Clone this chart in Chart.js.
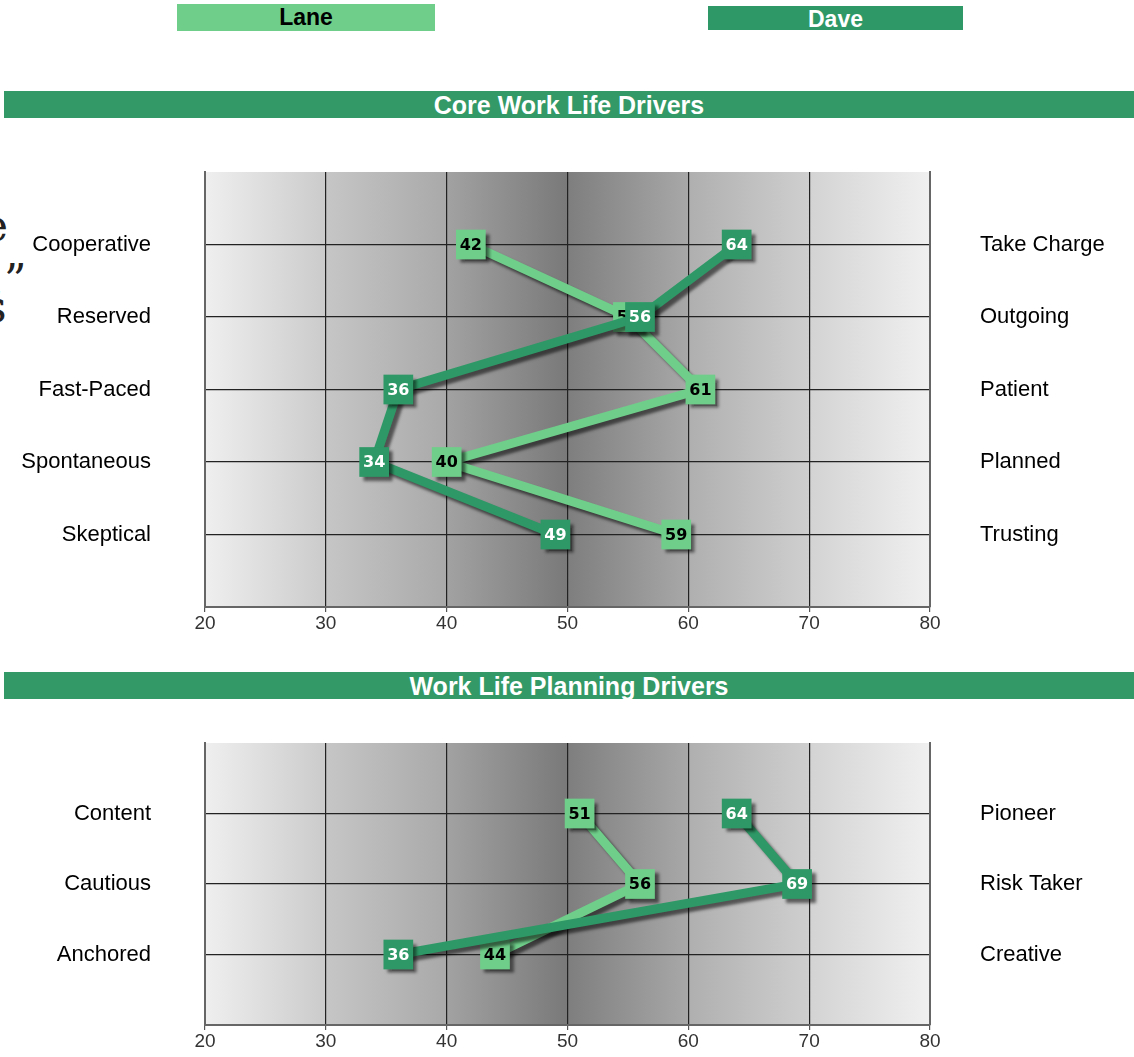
<!DOCTYPE html>
<html>
<head>
<meta charset="utf-8">
<script src="https://cdn.jsdelivr.net/npm/chart.js@4"></script>
<style>
body{margin:0;background:#fff;font-family:"Liberation Sans",Arial,sans-serif;}
#page{position:relative;width:1134px;height:1057px;overflow:hidden;}
.legend{position:absolute;font-weight:bold;font-size:23px;text-align:center;}
.bar{position:absolute;left:4px;width:1130px;height:27px;background:#339966;color:#fff;font-weight:bold;font-size:25px;text-align:center;line-height:28px;}
.frag{position:absolute;left:0;width:27px;overflow:hidden;font-family:"DejaVu Serif",serif;color:#222;}
canvas{position:absolute;left:0;}
</style>
</head>
<body>
<div id="page">
<div class="legend" style="left:177px;top:4px;width:258px;height:27px;line-height:27px;background:#6fcf8a;color:#000;">Lane</div>
<div class="legend" style="left:708px;top:6px;width:255px;height:24px;line-height:26px;background:#2e9966;color:#fff;">Dave</div>
<div class="frag" style="top:200px;height:50px;font-size:44px;"><span style="margin-left:-18px">e</span></div>
<div class="frag" style="top:255px;height:40px;font-size:44px;"><span style="margin-left:-10px">,”</span></div>
<div class="frag" style="top:292px;height:30px;font-size:44px;line-height:30px;"><span style="margin-left:-16px">s</span></div>
<div class="bar" style="top:91px;">Core Work Life Drivers</div>
<div class="bar" style="top:672px;">Work Life Planning Drivers</div>
<canvas id="c1" width="1134" height="520" style="top:130px"></canvas>
<canvas id="c2" width="1134" height="352" style="top:705px"></canvas>
</div>
<script>
// core work life drivers
var coreLeft = ["Cooperative","Reserved","Fast-Paced","Spontaneous","Skeptical"];
var coreRight = ["Take Charge","Outgoing","Patient","Planned","Trusting"];
var coreLane = [42,55,61,40,59];
var coreDave = [64,56,36,34,49];

// work life planning drivers
var planLeft = ["Content","Cautious","Anchored"];
var planRight = ["Pioneer","Risk Taker","Creative"];
var planLane = [51,56,44];
var planDave = [64,69,36];

var xTicks = [20,30,40,50,60,70,80];

var laneColor = "#6fcf8a";
var daveColor = "#2e9966";

// gray bands behind the plot, one per 10 units
var bands = [
["#efefef","#cbcbcb"],
["#c6c6c6","#a9a9a9"],
["#a2a2a2","#797979"],
["#7e7e7e","#a8a8a8"],
["#afafaf","#cfcfcf"],
["#d3d3d3","#f0f0f0"]
];

var bgPlugin = {
id:"bg",
beforeDraw:function(chart){
var ctx=chart.ctx, a=chart.chartArea, xs=chart.scales.x;
for(var i=0;i<bands.length;i++){
var x0=xs.getPixelForValue(xTicks[i]), x1=xs.getPixelForValue(xTicks[i+1]);
var g=ctx.createLinearGradient(x0,0,x1,0);
g.addColorStop(0,bands[i][0]);
g.addColorStop(1,bands[i][1]);
ctx.fillStyle=g;
ctx.fillRect(x0,a.top,x1-x0,a.bottom-a.top);
}
},
beforeDatasetDraw:function(chart){
var ctx=chart.ctx;
ctx.save();
ctx.shadowColor="rgba(0,0,0,0.55)";
ctx.shadowBlur=3;
ctx.shadowOffsetX=4;
ctx.shadowOffsetY=4;
},
afterDatasetDraw:function(chart,args){
var ctx=chart.ctx;
ctx.restore();
var ds=chart.data.datasets[args.index];
var meta=chart.getDatasetMeta(args.index);
ctx.save();
ctx.font="bold 16px 'DejaVu Sans', Verdana, sans-serif";
ctx.textAlign="center";
ctx.textBaseline="middle";
ctx.fillStyle=ds.textColor;
for(var i=0;i<meta.data.length;i++){
var p=meta.data[i];
ctx.fillText(String(ds.data[i].x),p.x,p.y+1);
}
ctx.restore();
}
};

function makeChart(id, left, right, lane, dave, padTop, xHeight){
var n=left.length;
function pts(arr){
var out=[];
for(var i=0;i<arr.length;i++) out.push({x:arr[i],y:i+1});
return out;
}
function ds(label,arr,color,txt,ord){
return {
label:label,
data:pts(arr),
order:ord,
borderColor:color,
backgroundColor:color,
borderWidth:9,
pointStyle:"rect",
pointRadius:21,
pointHoverRadius:21,
pointBorderWidth:0,
textColor:txt,
tension:0
};
}
var yOpts=function(labels,pos,pad){
return {
type:"linear",
position:pos,
min:0,max:n+1,reverse:true,
afterFit:function(s){
s.width=(pos=="left")?205:204;
s.paddingTop=0;s.paddingBottom=0;
},
afterBuildTicks:function(s){
var t=[];for(var i=0;i<=n+1;i++)t.push({value:i});s.ticks=t;
},
ticks:{
padding:pad,
color:"#000",
font:{family:"'Liberation Sans', Arial",size:22},
callback:function(v){return (v>=1&&v<=n)?labels[v-1]:"";}
},
grid:{
drawTicks:false,
drawOnChartArea:pos=="left",
color:function(c){return (c.tick.value>0&&c.tick.value<n+1)?"#222":"rgba(0,0,0,0)";},
lineWidth:1.2
},
border:{display:true,color:"#666",width:2}
};
};
return new Chart(document.getElementById(id),{
type:"line",
data:{datasets:[ds("Lane",lane,laneColor,"#000",1),ds("Dave",dave,daveColor,"#fff",0)]},
options:{
responsive:false,
animation:false,
layout:{padding:{top:padTop,bottom:0,left:0,right:0}},
plugins:{legend:{display:false},tooltip:{enabled:false}},
scales:{
x:{
type:"linear",
min:20,max:80,
afterFit:function(s){s.height=xHeight;},
afterBuildTicks:function(s){
s.ticks=xTicks.map(function(v){return {value:v};});
},
ticks:{
padding:0,
color:"#333",
font:{family:"'Liberation Sans Narrow','Liberation Sans', Arial",size:19}
},
grid:{
color:function(c){return (c.tick.value==20||c.tick.value==80)?"rgba(0,0,0,0)":"#222";},
tickColor:"#555",
tickLength:5,
lineWidth:1.2
},
border:{display:true,color:"#666",width:2}
},
y:yOpts(left,"left",54),
y2:yOpts(right,"right",50)
}
},
plugins:[bgPlugin]
});
}

makeChart("c1",coreLeft,coreRight,coreLane,coreDave,42,43);
makeChart("c2",planLeft,planRight,planLane,planDave,38,32);
</script>
</body>
</html>
